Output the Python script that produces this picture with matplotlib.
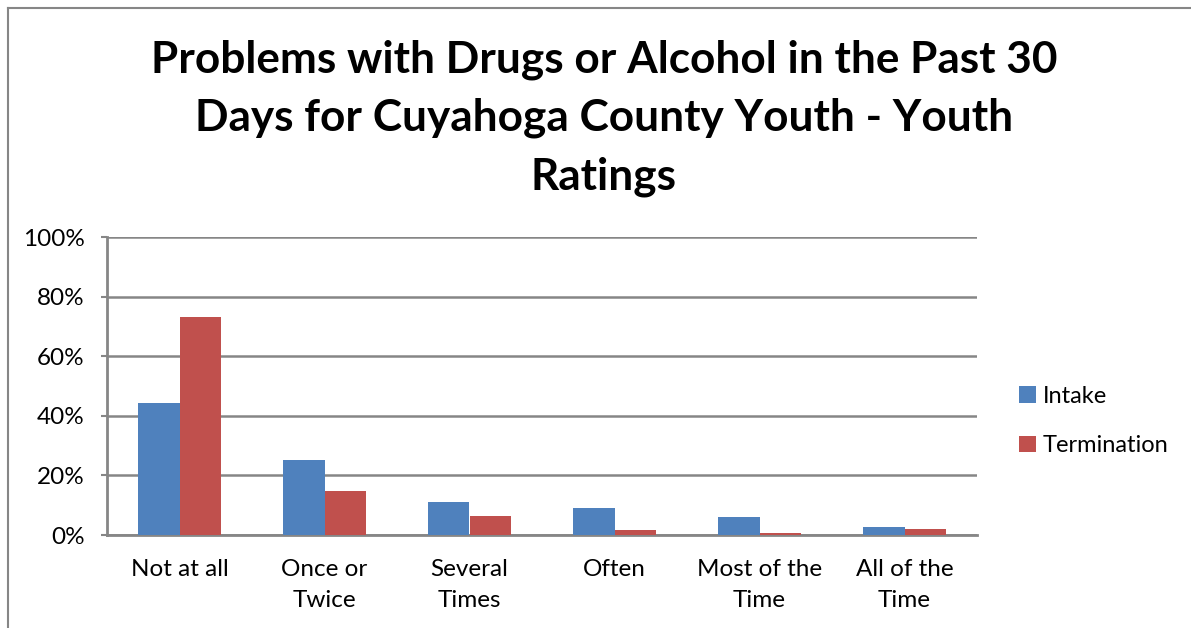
import matplotlib
matplotlib.use("Agg")
import matplotlib.pyplot as plt
import numpy as np
from matplotlib.lines import Line2D

categories = ["Not at all", "Once or\nTwice", "Several\nTimes", "Often", "Most of the\nTime", "All of the\nTime"]
intake = [44.3, 25.2, 11.0, 8.9, 6.1, 2.7]
termination = [73.2, 14.6, 6.3, 1.7, 0.7, 2.0]
series_names = ["Intake", "Termination"]
colors = ["#4F81BD", "#C0504D"]
yticks = [0, 20, 40, 60, 80, 100]
title = "Problems with Drugs or Alcohol in the Past 30\nDays for Cuyahoga County Youth - Youth\nRatings"

plt.rcParams['font.family'] = ['Lato', 'DejaVu Sans']

fig = plt.figure(figsize=(11.91, 6.28), dpi=100)
ax = fig.add_axes([107/1191, 1-535/628, (977-107)/1191, (535-237)/628])

x = np.arange(len(categories))
w = 0.285
ax.bar(x - w/2, intake, w, color=colors[0], label=series_names[0], zorder=3)
ax.bar(x + w/2, termination, w, color=colors[1], label=series_names[1], zorder=3)

ax.set_xlim(-0.5, len(categories) - 0.5)
ax.set_ylim(0, 100)
ax.set_yticks(yticks)
ax.set_yticklabels([f"{v}%" for v in yticks], fontsize=17.5)
ax.set_xticks(x)
ax.set_xticklabels(categories, fontsize=17.5, linespacing=1.62)
ax.tick_params(axis='x', length=0, pad=17)
ax.tick_params(axis='y', length=4, width=1.5, color="#868686", pad=12)
ax.yaxis.grid(True, color="#868686", linewidth=1.8, zorder=0)
for s in ["top", "right"]:
    ax.spines[s].set_visible(False)
for s in ["left", "bottom"]:
    ax.spines[s].set_color("#868686")
    ax.spines[s].set_linewidth(2)

fig.text(604/1191, 1-118/628, title, ha="center", va="center", fontsize=31.8,
         fontweight="bold", linespacing=1.54)

leg = fig.legend(loc="center left", bbox_to_anchor=(998/1191, 1-421/628), frameon=False,
                 fontsize=17, handlelength=0.7, handleheight=0.7, labelspacing=1.2,
                 handletextpad=0.3)

fig.add_artist(Line2D([8/1191, 8/1191], [0, 1-8/628], color="#868686", linewidth=1.5))
fig.add_artist(Line2D([8/1191, 1], [1-8/628, 1-8/628], color="#868686", linewidth=1.5))

fig.savefig("out.png", dpi=100)
